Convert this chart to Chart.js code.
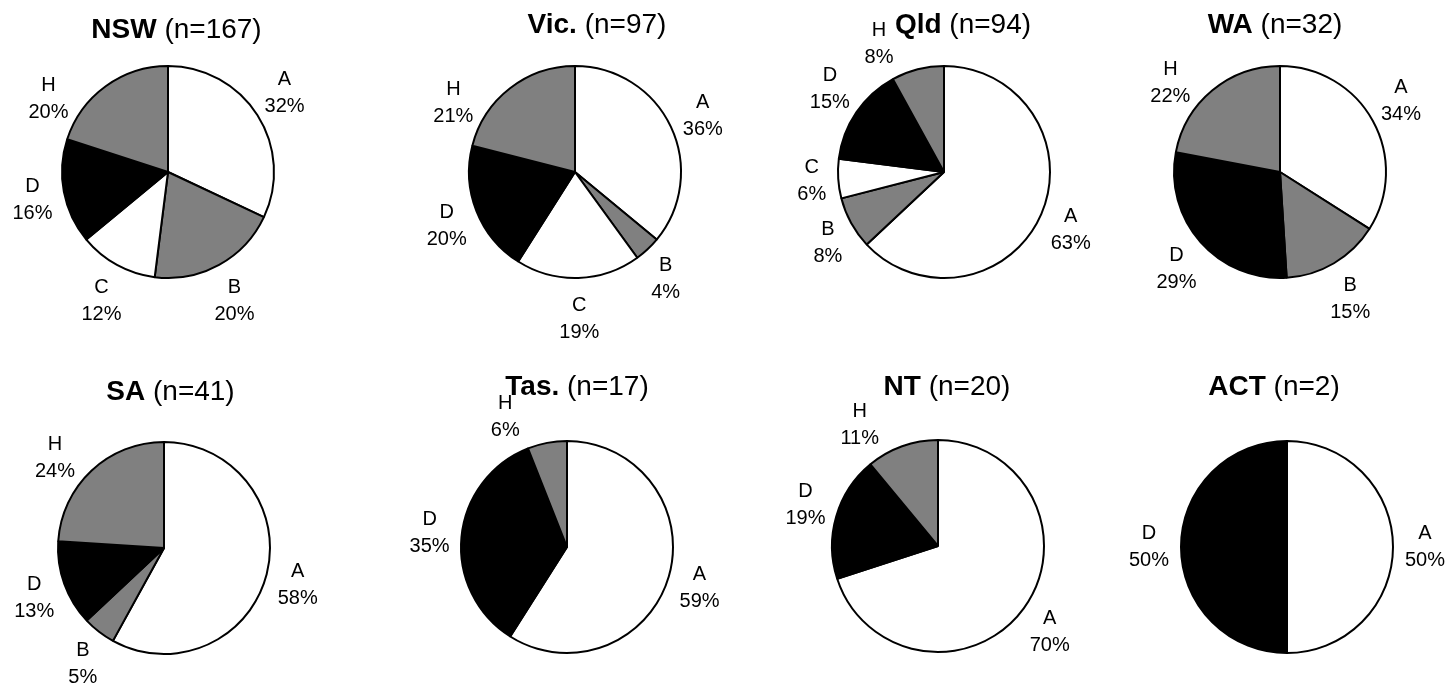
<!DOCTYPE html>
<html>
<head>
<meta charset="utf-8">
<script src="https://cdn.jsdelivr.net/npm/chart.js@4"></script>
<style>
	body { margin: 0; background: #fff; }
	#wrap { position: relative; width: 1453px; height: 686px; overflow: hidden; }
	#wrap canvas { position: absolute; left: 0; top: 0; }
</style>
</head>
<body>
<div id="wrap"></div>
<script>
// values (percent of each state's sample)
var categories = ['A', 'B', 'C', 'D', 'H'];
var states = ['NSW', 'Vic.', 'Qld', 'WA', 'SA', 'Tas.', 'NT', 'ACT'];
var sampleSizes = [167, 97, 94, 32, 41, 17, 20, 2];
var shareA = [32, 36, 63, 34, 58, 59, 70, 50];
var shareB = [20, 4, 8, 15, 5, 0, 0, 0];
var shareC = [12, 19, 6, 0, 0, 0, 0, 0];
var shareD = [16, 20, 15, 29, 13, 35, 19, 50];
var shareH = [20, 21, 8, 22, 24, 6, 11, 0];

// page layout (not data): every pie gets its own full-page transparent canvas
var sliceColors = { A: '#ffffff', B: '#808080', C: '#ffffff', D: '#000000', H: '#808080' };
var pageW = 1453, pageH = 686, pieR = 106;
var pieCentres = [[168, 172], [575, 172], [944, 172], [1280, 172], [164, 548], [567, 547], [938, 546], [1287, 547]];
var titleSpots = [[176.5, 38], [597, 33], [963, 33], [1275, 33], [170.5, 400], [577, 395], [947, 395], [1274, 395]];
// how far (degrees, - = anticlockwise) a label was slid round the rim in the original
var labelTurns = [{ H: -24 }, { H: -24, A: 3 }, { H: -15 }, { H: -13 }, { H: -9 }, { H: -13 }, { H: -15 }, {}];

var FONT = '"Liberation Sans", Arial, Helvetica, sans-serif';

var titlePlugin = {
	id: 'splitTitle',
	afterDraw: function (chart) {
		var t = chart.options.plugins.splitTitle;
		var ctx = chart.ctx;
		ctx.save();
		ctx.fillStyle = '#000';
		ctx.textBaseline = 'alphabetic';
		ctx.textAlign = 'left';
		ctx.font = 'bold 28px ' + FONT;
		var w1 = ctx.measureText(t.bold).width;
		ctx.font = '28px ' + FONT;
		var w2 = ctx.measureText(t.normal).width;
		var x0 = t.x - (w1 + w2) / 2;
		ctx.font = 'bold 28px ' + FONT;
		ctx.fillText(t.bold, x0, t.y);
		ctx.font = '28px ' + FONT;
		ctx.fillText(t.normal, x0 + w1, t.y);
		ctx.restore();
		chart.$titleBox = { left: x0, right: x0 + w1 + w2, top: t.y - 22, bottom: t.y + 1 };
	}
};

// category + percent written outside each slice
var sliceLabels = {
	id: 'sliceLabels',
	afterDraw: function (chart) {
		var ctx = chart.ctx;
		var meta = chart.getDatasetMeta(0);
		var ds = chart.data.datasets[0];
		var tb = chart.$titleBox;
		var turns = chart.options.plugins.sliceLabels.turns || {};
		var lh = 27;
		ctx.save();
		ctx.font = '20px ' + FONT;
		ctx.fillStyle = '#000';
		ctx.textAlign = 'center';
		ctx.textBaseline = 'middle';
		meta.data.forEach(function (arc, i) {
			var p = arc.getProps(['x', 'y', 'startAngle', 'endAngle', 'outerRadius'], true);
			var line1 = chart.data.labels[i];
			var line2 = ds.data[i] + '%';
			var hw = Math.max(ctx.measureText(line1).width, ctx.measureText(line2).width) / 2;
			var hh = 20;
			var gap = p.outerRadius + 12;
			var mid = (p.startAngle + p.endAngle) / 2 + (turns[line1] || 0) * Math.PI / 180;
			var cx, cy;
			var dir = Math.cos(mid) < 0 ? -1 : 1;
			// still touching the title? slide further round
			for (var step = 0; step < 80; step++) {
				var a = mid + dir * step * Math.PI / 180;
				var ux = Math.cos(a), uy = Math.sin(a);
				cx = p.x + ux * (gap + hw);
				cy = p.y + uy * (gap + 29);
				if (!tb) break;
				var hit = cx + hw > tb.left && cx - hw < tb.right && cy - hh < tb.bottom && cy + hh > tb.top;
				if (!hit) break;
			}
			ctx.fillText(line1, cx, cy - lh / 2);
			ctx.fillText(line2, cx, cy + lh / 2);
		});
		ctx.restore();
	}
};

var wrap = document.getElementById('wrap');

states.forEach(function (st, k) {
	var canvas = document.createElement('canvas');
	canvas.width = pageW;
	canvas.height = pageH;
	wrap.appendChild(canvas);

	var all = [shareA[k], shareB[k], shareC[k], shareD[k], shareH[k]];
	var labels = [], values = [], colors = [];
	all.forEach(function (v, j) {
		if (v > 0) {
			labels.push(categories[j]);
			values.push(v);
			colors.push(sliceColors[categories[j]]);
		}
	});

	var c = pieCentres[k];
	new Chart(canvas, {
		type: 'pie',
		data: {
			labels: labels,
			datasets: [{
				data: values,
				backgroundColor: colors,
				borderColor: '#000',
				borderWidth: 2,
				hoverOffset: 0
			}]
		},
		options: {
			responsive: false,
			animation: false,
			events: [],
			radius: pieR,
			layout: {
				padding: {
					left: c[0] - pieR,
					right: pageW - c[0] - pieR,
					top: c[1] - pieR,
					bottom: pageH - c[1] - pieR
				}
			},
			plugins: {
				legend: { display: false },
				tooltip: { enabled: false },
				splitTitle: {
					bold: st,
					normal: ' (n=' + sampleSizes[k] + ')',
					x: titleSpots[k][0],
					y: titleSpots[k][1]
				},
				sliceLabels: { turns: labelTurns[k] }
			}
		},
		plugins: [titlePlugin, sliceLabels]
	});
});
</script>
</body>
</html>
